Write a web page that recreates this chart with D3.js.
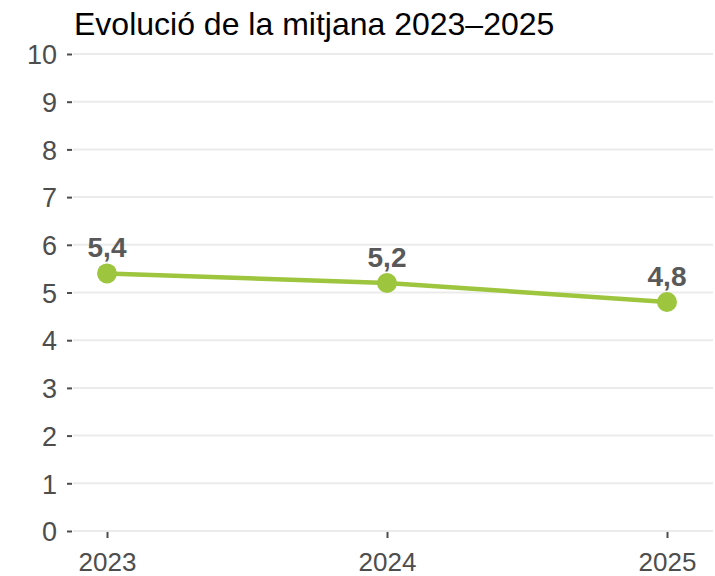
<!DOCTYPE html>
<html lang="ca">
<head>
    <meta charset="UTF-8" />
    <title>Evolució de la mitjana</title>
    <script src="https://d3js.org/d3.v7.min.js"></script>
    <style>
        body { margin: 0; background: #fff; }
        svg text { font-family: "Liberation Sans", Arial, sans-serif; }
    </style>
</head>
<body>
    <script>
        var w = 715;
        var h = 576;

        // Data
        var years = ["2023", "2024", "2025"];
        var means = [5.4, 5.2, 4.8];
        var yTicks = [0, 1, 2, 3, 4, 5, 6, 7, 8, 9, 10];

        var plotLeft = 73, plotRight = 713, plotTop = 54, plotBottom = 531;

        var svg = d3.select("body")
            .append("svg")
            .attr("width", w)
            .attr("height", h);

        var xScale = d3.scalePoint()
            .domain(years)
            .range([107, 667]);

        var yScale = d3.scaleLinear()
            .domain([0, 10])
            .range([plotBottom, plotTop]);

        // Gridlines
        svg.append("g")
            .selectAll("line")
            .data(yTicks)
            .enter()
            .append("line")
            .attr("x1", plotLeft)
            .attr("x2", plotRight)
            .attr("y1", function(d) { return yScale(d); })
            .attr("y2", function(d) { return yScale(d); })
            .attr("stroke", "#ebebeb")
            .attr("stroke-width", 2);

        // Y axis
        var yAxis = svg.append("g")
            .attr("transform", "translate(" + (plotLeft - 1) + ",0)")
            .call(d3.axisLeft(yScale).tickValues(yTicks).tickSize(5).tickPadding(10));
        yAxis.select(".domain").remove();
        yAxis.selectAll(".tick line").attr("stroke", "#4d4d4d").attr("stroke-width", 2);
        yAxis.selectAll(".tick text")
            .attr("fill", "#4d4d4d")
            .attr("font-size", "27px")
            .attr("dy", "0.36em")
            .attr("font-family", "Liberation Sans, Arial, sans-serif");

        // X axis
        var xAxis = svg.append("g")
            .attr("transform", "translate(0," + (plotBottom + 1) + ")")
            .call(d3.axisBottom(xScale).tickSize(6).tickPadding(10));
        xAxis.select(".domain").remove();
        xAxis.selectAll(".tick line").attr("stroke", "#4d4d4d").attr("stroke-width", 2);
        xAxis.selectAll(".tick text")
            .attr("fill", "#4d4d4d")
            .attr("font-size", "26px")
            .attr("y", 39)
            .attr("dy", null)
            .attr("font-family", "Liberation Sans, Arial, sans-serif");

        // Line
        var line = d3.line()
            .x(function(d, i) { return xScale(years[i]); })
            .y(function(d) { return yScale(d); });

        svg.append("path")
            .datum(means)
            .attr("d", line)
            .attr("fill", "none")
            .attr("stroke", "#9dc53e")
            .attr("stroke-width", 4.5);

        // Points
        svg.selectAll("circle.pt")
            .data(means)
            .enter()
            .append("circle")
            .attr("class", "pt")
            .attr("cx", function(d, i) { return xScale(years[i]); })
            .attr("cy", function(d) { return yScale(d); })
            .attr("r", 10)
            .attr("fill", "#9dc53e");

        // Value labels
        svg.selectAll("text.lbl")
            .data(means)
            .enter()
            .append("text")
            .attr("class", "lbl")
            .attr("x", function(d, i) { return xScale(years[i]); })
            .attr("y", function(d) { return yScale(d) - 16; })
            .attr("text-anchor", "middle")
            .attr("font-size", "28px")
            .attr("font-weight", "bold")
            .attr("fill", "#595959")
            .text(function(d) { return d3.format(".1f")(d).replace(".", ","); });

        // Title
        svg.append("text")
            .attr("x", 74)
            .attr("y", 35)
            .attr("font-size", "32px")
            .attr("fill", "#000")
            .text("Evolució de la mitjana 2023–2025");
    </script>
</body>
</html>
